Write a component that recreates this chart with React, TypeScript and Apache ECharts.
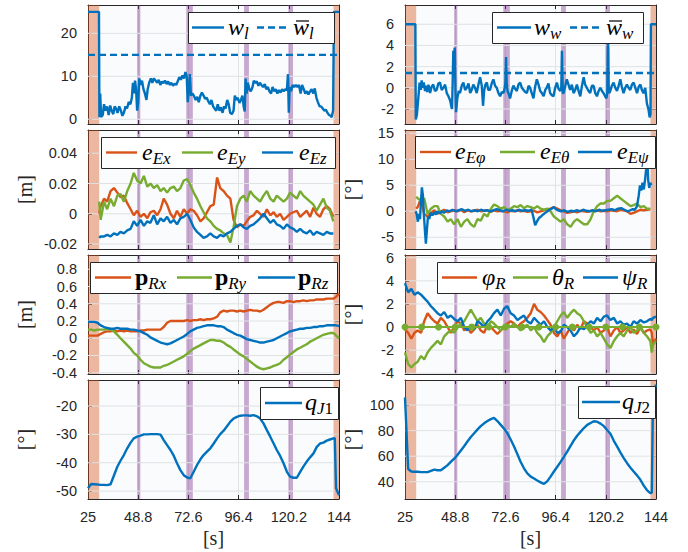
import React, { useEffect, useRef } from "react";
import * as echarts from "echarts";

// ---------------- time bases ----------------
const T_START = [25, 26.5, 28, 29.5];
const T_MID = [
  31.0, 32.6, 34.1, 35.7, 37.3, 38.9, 40.4, 42.0, 43.6, 45.2,
  46.7, 48.3, 49.9, 51.5, 53.1, 54.6, 56.2, 57.8, 59.4, 60.9,
  62.5, 64.1, 65.7, 67.2, 68.8, 70.4, 72.0, 73.5, 75.1, 76.7,
  78.3, 79.8, 81.4, 83.0, 84.6, 86.2, 87.7, 89.3, 90.9, 92.5,
  94.0, 95.6, 97.2, 98.8, 100.3, 101.9, 103.5, 105.1, 106.6, 108.2,
  109.8, 111.4, 113.0, 114.5, 116.1, 117.7, 119.3, 120.8, 122.4, 124.0,
  125.6, 127.1, 128.7, 130.3, 131.9, 133.4, 135.0, 136.6, 138.2, 139.7,
  141.3,
];
const T_END = [142.0, 142.6, 144];
const E_START_T = [30.3];

const X_MIN = 25;
const X_MAX = 144;
const X_STEP = 23.8;

const ORANGE_BANDS = [[25, 30.3], [141.4, 144]];
const PURPLE_BANDS = [[48.3, 49.8], [71.6, 74.7], [99.0, 101.3], [120.0, 122.2]];

// ---------------- panel 1 : w_l, w_w ----------------
const W_L = [
  [25, 25], [30.2, 25], [30.4, 0.5], [30.8, 6], [31.2, 0.5], [32, 1], [32.6, 3.5], [33.2, 2], [34, 3], [34.8, 1],
  [35.5, 3.2], [36.2, 2], [37, 1.2], [37.6, 3], [38.3, 2.5], [39, 1.5], [39.8, 3], [40.6, 2], [41.3, 0.8], [42, 1.5],
  [42.8, 3], [43.5, 2.5], [44.3, 4], [45.1, 3.5], [45.8, 5], [46.3, 8.5], [46.8, 6], [47.3, 9], [47.8, 7], [48.3, 2],
  [48.8, 4], [49.3, 9.5], [49.9, 8], [50.6, 9], [51.3, 7], [52, 6], [52.7, 4.5], [53.3, 7], [54, 8.5], [54.8, 9.5],
  [55.5, 8.5], [56.2, 9.5], [57, 9], [57.8, 8.5], [58.5, 9.2], [59.3, 8], [60, 8.8], [60.8, 8.4], [61.5, 9], [62.3, 8.2],
  [63, 8.8], [63.8, 8], [64.5, 8.5], [65.3, 7.8], [66, 8.3], [66.8, 8], [67.5, 8.8], [68.3, 9.8], [69, 9.2], [69.8, 10.2],
  [70.5, 9.5], [71.2, 11], [71.8, 10], [72.3, 4], [72.8, 7], [73.3, 10.5], [73.8, 5.5], [74.5, 6], [75.2, 5.5], [76, 4.5],
  [76.8, 5.2], [77.5, 4], [78.3, 5.5], [79, 6.2], [79.8, 5.5], [80.5, 4.8], [81.3, 5], [82, 4.2], [82.8, 3.5], [83.5, 4.5],
  [84.3, 3], [85, 2.5], [85.8, 2], [86.5, 3.5], [87.3, 2], [88, 2.8], [88.8, 1.5], [89.5, 3], [90.2, 2.5], [91, 4.5],
  [91.7, 3.5], [92.4, 1.5], [93.2, 1.2], [94, 2], [94.6, 5.5], [95.3, 4.5], [96, 5], [96.8, 3.8], [97.5, 4.5], [98.2, 5.5],
  [98.8, 3], [99.3, 1.8], [99.7, 9.5], [100.2, 6], [100.8, 8.5], [101.5, 7], [102.2, 6.5], [103, 7.5], [103.6, 9], [104.3, 8.5],
  [105, 8.8], [105.8, 7.8], [106.5, 8.5], [107.2, 8], [108, 7.5], [108.8, 8.2], [109.5, 7], [110.3, 7.5], [111, 6.5], [111.8, 6],
  [112.5, 7.5], [113.3, 6.5], [114, 7], [114.8, 6], [115.5, 6.8], [116.3, 6.2], [117, 7], [117.8, 6.5], [118.5, 7], [119.3, 6.8],
  [119.8, 10.5], [120.2, 1.5], [120.6, 7.5], [121.3, 6.5], [122, 8], [122.8, 7.5], [123.5, 8], [124.3, 7.5], [125, 8], [125.8, 6],
  [126.5, 8], [127.3, 7], [128, 6], [128.8, 6.5], [129.5, 5.8], [130.3, 6.5], [131, 7], [131.8, 6], [132.5, 7.2], [133.3, 5],
  [134, 4], [134.8, 3], [135.5, 3], [136.3, 2.5], [137, 2], [137.8, 2.2], [138.5, 1.5], [139.3, 1], [140, 0.8], [140.5, 0.5],
  [141.2, 2], [141.6, 25], [144, 25],
];
const W_L_MEAN = [[25, 15], [144, 15]];

const W_W = [
  [25, 6], [29.9, 6], [30.1, -3], [30.6, -2.6], [31.3, -1], [31.9, 0.5], [32.5, -0.2], [32.9, 0.7], [33.4, 0], [33.9, 0.5],
  [34.5, -0.3], [35.0, 0.2], [35.5, -0.4], [36.1, 0.3], [36.9, -0.5], [37.6, 0.1], [38.4, 0.3], [39.2, -0.3], [40.0, -0.2], [40.8, 0.4],
  [41.6, 0.5], [42.4, -0.2], [43.2, 0], [44.0, 0.3], [44.8, -0.5], [45.6, -0.8], [46.4, -1.2], [47.0, -1.8], [47.3, -2], [47.6, 0.5],
  [47.9, 3.5], [48.3, 3.3], [48.6, 3.8], [48.9, 0], [49.2, -2.3], [49.8, -1], [50.5, -0.3], [51.1, -0.5], [51.9, 0.2], [52.7, 0.5],
  [53.5, -0.2], [54.3, 0], [55.1, 0.4], [55.9, -0.5], [56.6, -0.2], [57.4, 0.3], [58.2, 0], [59.0, -0.5], [59.8, 0.3], [60.6, 1],
  [61.4, 0.2], [62.0, -1.7], [62.5, -0.3], [63.1, 0.3], [63.8, 0.5], [64.5, -0.2], [65.3, -0.2], [66.1, 0.4], [66.9, 0.8], [67.7, 0.2],
  [68.5, 0], [69.3, -0.5], [70.1, -0.8], [70.9, -0.4], [71.7, -0.5], [72.3, 0], [72.6, 0.5], [72.9, 2.9], [73.2, 0.5], [73.6, -0.3],
  [74.2, -0.6], [74.8, -1], [75.6, -0.3], [76.4, 0.2], [77.2, -0.1], [78.0, -0.3], [78.8, 0.3], [79.6, 0.5], [80.4, 0], [81.2, -0.2],
  [82.0, -0.4], [82.8, -0.5], [83.6, 0.2], [84.3, 0], [85.1, -0.5], [85.9, -1], [86.7, 0.1], [87.5, 0.8], [88.3, 0.3], [89.1, -0.3],
  [89.9, -0.5], [90.7, -0.8], [91.5, -0.2], [92.2, 0], [93.0, 0.4], [93.8, -0.5], [94.6, -0.7], [95.4, -0.8], [96.2, 0], [97.0, 0.5],
  [97.8, -0.1], [98.6, -0.3], [99.1, 0], [99.4, 3.5], [99.8, -0.5], [100.2, -0.5], [101.0, 0.2], [101.7, 0.8], [102.5, 0.3], [103.3, -0.2],
  [104.1, 0.3], [104.9, -0.5], [105.7, -0.2], [106.5, 0.3], [107.3, -0.3], [108.1, -0.8], [108.9, 0.2], [109.7, 1], [110.4, 0.3], [111.2, 0],
  [112.0, -0.3], [112.8, -0.5], [113.6, 0.2], [114.4, 0.2], [115.2, -0.5], [116.0, -0.8], [116.8, -0.3], [117.6, 0], [118.4, -0.3], [119.1, -0.5],
  [119.9, -0.8], [120.5, -1], [120.9, -0.5], [121.2, 4.3], [121.5, 0.3], [121.9, -0.5], [122.3, -0.3], [123.1, 0.2], [123.9, 0.5], [124.7, 0],
  [125.5, -0.3], [126.3, 0.2], [127.1, 0.8], [127.8, 0.1], [128.6, -0.5], [129.4, 0], [130.2, 0.3], [131.0, 0], [131.8, -0.2], [132.6, 0.3],
  [133.4, 0.5], [134.2, 0], [135.0, -0.5], [135.8, 0.1], [136.6, 0.3], [137.3, -0.2], [138.1, -0.5], [138.9, 0], [139.7, -1.5], [140.4, -2],
  [141.0, -2.8], [141.4, -2.5], [141.6, 6], [144, 6],
];
const W_W_MEAN = [[25, 1.4], [144, 1.4]];

// ---------------- panel 2 : position / orientation errors ----------------
const E_X = [
  0,
  0.005, 0.010, 0.008, 0.015, 0.017, 0.014, 0.011, 0.012, 0.007, 0.003,
  -0.001, 0.002, -0.002, 0, -0.003, 0.001, 0.002, -0.001, 0.003, 0.010,
  0.006, 0, -0.003, 0.002, -0.002, 0.003, 0, 0.003, 0.002, -0.001,
  -0.005, -0.003, 0.001, 0.005, 0.006, 0.024, 0.017, 0.015, 0.012, 0.010,
  -0.004, -0.009, -0.007, -0.008, -0.005, -0.002, -0.001, 0.002, 0, -0.002,
  0.003, -0.001, 0.001, -0.002, 0, -0.004, -0.002, 0, 0.001, 0.002,
  -0.002, 0, 0.002, -0.002, 0.004, 0, -0.002, 0.003, 0.005, 0.003,
  -0.002,
];
const E_Y = [
  0.008,
  -0.004, 0.008, 0.003, 0.010, 0.005, 0.012, 0.013, 0.008, 0.015, 0.020,
  0.027, 0.022, 0.020, 0.025, 0.018, 0.020, 0.017, 0.019, 0.015, 0.017,
  0.014, 0.017, 0.018, 0.015, 0.017, 0.022, 0.023, 0.019, 0.014, 0.010,
  0.005, 0.001, -0.003, -0.005, -0.008, -0.010, -0.011, -0.013, -0.014, -0.019,
  -0.009, 0.005, 0.010, 0.012, 0.008, 0.015, 0.012, 0.010, 0.008, 0.012,
  0.015, 0.010, 0.008, 0.012, 0.010, 0.008, 0.010, 0.014, 0.012, 0.010,
  0.015, 0.012, 0.010, 0.008, 0.006, 0.002, 0.006, 0.010, 0.004, 0.002,
  -0.005,
];
const E_Z = [
  -0.016,
  -0.015, -0.015, -0.014, -0.015, -0.013, -0.014, -0.012, -0.013, -0.011, -0.010,
  -0.005, -0.008, -0.004, -0.008, -0.005, -0.006, -0.001, -0.007, -0.003, -0.005,
  -0.002, -0.006, -0.004, -0.007, -0.003, -0.002, 0, -0.004, -0.009, -0.012,
  -0.014, -0.016, -0.015, -0.013, -0.015, -0.016, -0.014, -0.015, -0.013, -0.012,
  -0.010, -0.008, -0.007, -0.009, -0.010, -0.008, -0.007, -0.005, -0.003, 0,
  -0.003, -0.006, -0.004, -0.007, -0.008, -0.010, -0.007, -0.009, -0.010, -0.012,
  -0.010, -0.012, -0.013, -0.011, -0.014, -0.012, -0.013, -0.014, -0.012, -0.013,
  -0.013,
];
const E_PHI = [
  0.5,
  0.8, 2.5, -0.5, -1, -0.3, 0.2, -0.5, 0, 0.3, -0.2,
  0, 0.2, 0, 0.3, -0.2, 0.2, 0, 0.1, 0.3, 0,
  0.1, 0.2, -0.1, 0.2, 0, 0.1, 0, -0.2, 0.1, 0,
  0.2, 0, 0.1, -0.1, 0, 0.1, -0.2, 0, 0.2, 0.4,
  0.5, 0.8, 0.5, 0.2, 0, -0.3, -0.2, 0, -0.2, 0.1,
  0, -0.1, 0.1, 0, 0.2, 0, 0.1, 0, 0.2, 0.1,
  0, 0.3, 0.2, 0, -0.5, -0.3, 0, 0.3, 0.2, 0.3,
  0.4,
];
const E_THETA = [
  2.8,
  2.5, 2, 2.5, -0.5, 0.5, 1, 1, -0.5, -1, -2,
  -1.5, -2.5, -1.5, -3, -2, -1.5, -2.5, -3, -1.5, -1.8,
  -0.5, -1, 0.5, 1.3, 1, 0.5, 0.8, 0.3, 0.5, 1,
  0.8, 1.2, 0.6, 1, 0.8, 0.5, 1, 0.5, 0.3, 0.5,
  0, -1, -1.5, -2, -1.5, -2.5, -3, -2, -1.5, -2,
  -2.5, -2.5, -1.5, 0, 1, 1.5, 1.5, 2, 2, 2.5,
  3, 2.5, 2, 1.5, 1, 1.2, 1.5, 0.8, 1, 0.5,
  0.5,
];
const E_PSI = [
  [30.0, 0], [30.5, -0.5], [31.1, -2], [31.6, -0.5], [32.1, -1.5], [32.6, 2], [33.0, 4.6], [33.5, 3], [34.0, -1], [34.5, -4],
  [34.9, -6.2], [35.4, -3.5], [35.9, -1], [36.5, -1.5], [37.2, -0.3], [38.0, -0.8], [38.8, -0.2], [39.6, -0.6], [40.4, 0], [41.5, -0.4],
  [42.5, 0], [43.5, -0.3], [44.8, 0.2], [46.0, 0], [47.5, 0.3], [49.0, 0], [50.5, 0.2], [52.0, 0.4], [53.5, 0.1], [55.0, 0.3],
  [56.5, 0], [58.0, 0.2], [59.5, 0], [61.0, 0.3], [62.5, 0.1], [64.0, 0.2], [65.5, 0], [67.0, 0.2], [68.5, 0.4], [70.0, 0.2],
  [71.5, 0], [73.0, 0.3], [74.5, 0.1], [76.0, 0.2], [77.5, 0], [79.0, 0.3], [80.5, 0.1], [82.0, 0.2], [83.5, 0.1], [85.0, 0.3],
  [85.8, -1], [86.7, -2.7], [87.5, -2], [88.5, -1.3], [89.5, -1], [90.5, -0.6], [91.5, -0.3], [92.5, 0], [93.5, 0.3], [94.5, 0.5],
  [95.5, 0.8], [96.5, 0.4], [97.5, 0.2], [99.0, 0], [100.5, 0.2], [102.0, -0.1], [103.5, 0.1], [105.0, 0], [106.5, 0.2], [108.0, 0],
  [109.5, 0.3], [111.0, 0.1], [112.5, 0], [114.0, 0.2], [115.5, 0], [117.0, 0.3], [118.5, 0.1], [120.0, 0.2], [121.5, 0.3], [123.0, 0.4],
  [124.5, 0.2], [126.0, 0.5], [127.5, 0.6], [129.0, 0.3], [130.5, 0], [131.8, 0.2], [133.0, 0.4], [134.0, 0.3], [135.0, 1], [135.8, 3],
  [136.4, 5], [137.0, 4], [137.6, 5.5], [138.2, 4.2], [138.8, 6], [139.3, 8], [139.8, 11], [140.3, 6], [140.8, 4.5], [141.3, 5.5],
  [141.8, 5],
];

// ---------------- panel 3 : robot pose ----------------
const P_RX = [
  0.03, 0.03, 0.03, 0.03,
  0.05, 0.07, 0.08, 0.08, 0.09, 0.08, 0.09, 0.08, 0.09, 0.08,
  0.08, 0.08, 0.09, 0.09, 0.1, 0.1, 0.1, 0.1, 0.1, 0.13,
  0.18, 0.2, 0.2, 0.2, 0.2, 0.2, 0.21, 0.2, 0.21, 0.21,
  0.22, 0.21, 0.22, 0.22, 0.23, 0.25, 0.3, 0.32, 0.31, 0.32,
  0.32, 0.31, 0.32, 0.31, 0.32, 0.33, 0.32, 0.32, 0.31, 0.33,
  0.36, 0.39, 0.41, 0.42, 0.42, 0.41, 0.43, 0.43, 0.42, 0.43,
  0.43, 0.44, 0.43, 0.44, 0.44, 0.45, 0.45, 0.45, 0.46, 0.46,
  0.46,
  0.47, 0.48, 0.52,
];
const P_RY = [
  0.1, 0.1, 0.09, 0.1,
  0.1, 0.1, 0.11, 0.1, 0.08, 0.04, 0, -0.04, -0.08, -0.12,
  -0.17, -0.2, -0.25, -0.29, -0.31, -0.33, -0.34, -0.34, -0.34, -0.32,
  -0.31, -0.29, -0.27, -0.25, -0.23, -0.21, -0.18, -0.15, -0.12, -0.1,
  -0.08, -0.06, -0.04, -0.02, -0.02, -0.03, -0.03, -0.05, -0.08, -0.1,
  -0.13, -0.16, -0.19, -0.21, -0.24, -0.27, -0.3, -0.33, -0.35, -0.36,
  -0.35, -0.34, -0.32, -0.31, -0.29, -0.25, -0.22, -0.19, -0.16, -0.13,
  -0.11, -0.09, -0.07, -0.04, -0.02, 0, 0.02, 0.04, 0.05, 0.06,
  0.06,
  0.05, 0.03, 0.0,
];
const P_RZ = [
  0.19, 0.19, 0.19, 0.18,
  0.15, 0.13, 0.12, 0.11, 0.11, 0.12, 0.11, 0.11, 0.11, 0.1,
  0.1, 0.09, 0.08, 0.06, 0.04, 0.01, -0.01, -0.03, -0.05, -0.06,
  -0.07, -0.06, -0.04, -0.02, 0, 0.02, 0.05, 0.08, 0.1, 0.12,
  0.13, 0.14, 0.15, 0.15, 0.15, 0.14, 0.14, 0.13, 0.1, 0.08,
  0.06, 0.04, 0.03, 0.01, -0.01, -0.02, -0.03, -0.04, -0.05, -0.05,
  -0.04, -0.03, -0.02, 0, 0.02, 0.04, 0.06, 0.08, 0.09, 0.1,
  0.11, 0.11, 0.12, 0.12, 0.13, 0.13, 0.14, 0.14, 0.15, 0.15,
  0.15,
  0.15, 0.15, 0.14,
];
const PHI_R = [
  -0.2, -0.5, -1, -0.5,
  -0.3, -0.5, 0.5, 1.2, 0.8, 0.5, 0.3, 0.8, 0.5, 0,
  -0.5, 0, 0.5, 0.3, -0.3, 0, -0.5, -0.2, 0.2, -0.3,
  -0.5, 0.2, 0, -0.3, -0.6, -0.3, 0, 0.3, 0.5, 0.3,
  0, 0.3, 0.5, 0.8, 1.2, 2, 1.5, 1.3, 1, 0.6,
  0.2, -0.5, -0.8, -0.3, -1, -0.5, 0, -0.3, 0.2, -0.2,
  0.5, 0.3, 0, -0.3, 0, -0.5, -0.3, 0, -0.8, -0.3,
  0, -0.5, -0.3, 0, -0.5, -0.2, -0.6, 0, -0.5, -0.3,
  -0.2,
  -0.5, -1.5, -1,
];
const THETA_R = [
  -2.2, -3.2, -3.5, -3.2,
  -3, -2.5, -2.8, -2.2, -1.8, -1.5, -1.2, -1.5, -0.8, -0.5,
  -0.3, -0.5, 0, 0.3, 0.5, 1, 1.5, 1, 0.5, 0.8,
  0.3, 0, 0.5, 0.3, 0, -0.3, 0, 0.2, 0, 0.3,
  0, -0.3, 0, 0.2, -0.3, 0, -0.5, -0.8, -1.3, -0.8,
  -0.5, 0, 0.5, 1, 1.3, 0.8, 1.2, 1.5, 1.2, 1,
  0.5, 0, -0.5, -0.3, -0.8, -0.5, -1, -1.5, -1.8, -1.2,
  -0.8, -0.5, -0.8, -0.3, 0, -0.5, -0.3, 0, -0.5, -0.8,
  -1.2,
  -2.2, -1.5, -1.2,
];
const PSI_R = [
  3.8, 3, 3.3, 2.8,
  3, 2.8, 2.5, 2.2, 1.8, 1.5, 1.2, 1, 1.3, 0.8,
  1, 0.7, 0.5, 0.8, 0, -0.3, 0.2, -0.2, 0.5, 0.3,
  0, 0.5, 0.8, 1.2, 1.5, 1, 1.6, 1.8, 1.2, 1,
  0.6, 0.8, 1, 0.5, 0.3, 0.8, 0.5, 0.2, 0.5, 0,
  -0.3, 0, -0.5, -0.4, 0.2, 0, -0.3, -0.8, -0.5, 0,
  -0.2, 0.2, 0.5, 0.3, 0.8, 0.5, 0.9, 1, 0.6, 0.8,
  0.3, 0.5, 0.2, 0.3, 0, 0.5, 0.3, 0.6, 0.4, 0.5,
  0.7,
  0.6, 0.8, 0.9,
];
const THETA_REF_T = [25, 32.9, 40.9, 48.8, 56.7, 64.7, 72.6, 80.5, 88.5, 96.4, 104.3, 112.3, 120.2, 128.1, 136.1, 144];
const THETA_REF = [0, 0, 0, 0, 0, 0, 0, 0, 0, 0, 0, 0, 0, 0, 0, 0];

// ---------------- panel 4 : joint angles ----------------
const Q_J1 = [
  -49, -47.5, -47.6, -47.7,
  -47.8, -47.8, -47.9, -47.6, -44.5, -41.4, -39.3, -37.3, -34.9, -32.9,
  -31.4, -30.8, -30.4, -30.0, -30.0, -29.9, -29.9, -29.9, -30.1, -32.0,
  -33.8, -35.5, -37.6, -40.2, -42.6, -44.4, -45.2, -45.5, -43.2, -40.8,
  -38.8, -37.3, -36.1, -34.9, -33.2, -31.4, -29.9, -28.7, -27.1, -25.5,
  -24.4, -23.8, -23.4, -23.3, -23.3, -23.4, -23.2, -23.6, -24.4, -26.1,
  -28.5, -30.8, -33.2, -35.5, -37.6, -40.2, -43.2, -44.9, -45.3, -45.3,
  -43.2, -41.4, -39.6, -38.1, -36.7, -34.5, -33.2, -32.9, -32.2, -31.8,
  -31.4,
  -31.3, -49, -51.5,
];
const Q_J2 = [
  106, 50, 48, 47.8,
  47.8, 47.5, 47.5, 47.5, 48.5, 49.5, 49, 49, 51, 53,
  55.5, 58, 61, 64.5, 68, 71.5, 75, 78, 81, 83.5,
  85.7, 87.5, 89, 90, 87.5, 84.5, 81.5, 78, 73, 67.5,
  61.5, 55.7, 50.5, 46.5, 44, 42.5, 41, 39.5, 38.3, 40.5,
  44, 48, 51.7, 55.5, 59.5, 63.5, 68, 72.5, 76, 79,
  82, 84.5, 86, 87.3, 87, 85.5, 83.5, 80.5, 77.5, 72,
  67.5, 63, 58.5, 54.5, 51, 48, 45, 41.5, 37, 33.5,
  31,
  31.5, 108, 116,
];

// ---------------- axes ----------------
const Y_RANGE_WL = [-1.1, 26.6];
const Y_TICKS_WL = [0, 10, 20];
const Y_RANGE_WW = [-3.42, 7.82];
const Y_TICKS_WW = [-2, 0, 2, 4, 6];
const Y_RANGE_EP = [-0.0233, 0.0554];
const Y_TICKS_EP = [-0.02, 0, 0.02, 0.04];
const Y_RANGE_EO = [-7.25, 15.63];
const Y_TICKS_EO = [-5, 0, 5, 10, 15];
const Y_RANGE_PR = [-0.415, 0.966];
const Y_TICKS_PR = [-0.4, -0.2, 0, 0.2, 0.4, 0.6, 0.8];
const Y_RANGE_OR = [-4.06, 6.23];
const Y_TICKS_OR = [-4, -2, 0, 2, 4, 6];
const Y_RANGE_Q1 = [-52.8, -10.8];
const Y_TICKS_Q1 = [-50, -40, -30, -20];
const Y_RANGE_Q2 = [26.5, 119.6];
const Y_TICKS_Q2 = [40, 60, 80, 100];

// ---------------- style ----------------
const BLUE = "#0072BD";
const ORANGE = "#D95319";
const GREEN = "#77AC30";
const AXIS_COLOR = "#262626";
const GRID_LINE = "#e0e2e4";
const PLOT_BG = "#f9fbfc";
const ORANGE_FILL = "rgba(217,83,25,0.4)";
const PURPLE_FILL = "rgba(126,47,142,0.4)";
const SANS = "Liberation Sans, Arial, sans-serif";
const SERIF = "Liberation Serif, Times New Roman, serif";
const TICK_FONT = 14.5;
const LINE_W = 2.4;

const COL_X = [88, 405];
const ROW_Y = [5, 130, 255, 380];
const PW = 251;
const PH = 119;

const TIME_FULL = [...T_START, ...T_MID, ...T_END];
const E_TIME = [...E_START_T, ...T_MID];
const zip = (t: number[], v: number[]) => t.map((x, i) => [x, v[i]]);

type S = { data: number[][]; color: string; dashed?: boolean; dots?: boolean };
type Panel = { col: number; row: number; range: number[]; ticks: number[]; series: S[] };

const PANELS: Panel[] = [
  { col: 0, row: 0, range: Y_RANGE_WL, ticks: Y_TICKS_WL, series: [
    { data: W_L, color: BLUE }, { data: W_L_MEAN, color: BLUE, dashed: true }] },
  { col: 1, row: 0, range: Y_RANGE_WW, ticks: Y_TICKS_WW, series: [
    { data: W_W, color: BLUE }, { data: W_W_MEAN, color: BLUE, dashed: true }] },
  { col: 0, row: 1, range: Y_RANGE_EP, ticks: Y_TICKS_EP, series: [
    { data: zip(E_TIME, E_X), color: ORANGE }, { data: zip(E_TIME, E_Y), color: GREEN }, { data: zip(E_TIME, E_Z), color: BLUE }] },
  { col: 1, row: 1, range: Y_RANGE_EO, ticks: Y_TICKS_EO, series: [
    { data: zip(E_TIME, E_PHI), color: ORANGE }, { data: zip(E_TIME, E_THETA), color: GREEN }, { data: E_PSI, color: BLUE }] },
  { col: 0, row: 2, range: Y_RANGE_PR, ticks: Y_TICKS_PR, series: [
    { data: zip(TIME_FULL, P_RX), color: ORANGE }, { data: zip(TIME_FULL, P_RY), color: GREEN }, { data: zip(TIME_FULL, P_RZ), color: BLUE }] },
  { col: 1, row: 2, range: Y_RANGE_OR, ticks: Y_TICKS_OR, series: [
    { data: zip(TIME_FULL, PHI_R), color: ORANGE }, { data: zip(TIME_FULL, THETA_R), color: GREEN }, { data: zip(TIME_FULL, PSI_R), color: BLUE },
    { data: zip(THETA_REF_T, THETA_REF), color: GREEN, dots: true }] },
  { col: 0, row: 3, range: Y_RANGE_Q1, ticks: Y_TICKS_Q1, series: [{ data: zip(TIME_FULL, Q_J1), color: BLUE }] },
  { col: 1, row: 3, range: Y_RANGE_Q2, ticks: Y_TICKS_Q2, series: [{ data: zip(TIME_FULL, Q_J2), color: BLUE }] },
];

const RICH = {
  m: { fontFamily: SERIF, fontStyle: "italic", fontSize: 24, verticalAlign: "bottom", padding: [0, 0, 3, 0], fill: "#000" },
  b: { fontFamily: SERIF, fontWeight: "bold", fontSize: 24, verticalAlign: "bottom", padding: [0, 0, 3, 0], fill: "#000" },
  s: { fontFamily: SERIF, fontStyle: "italic", fontSize: 17, verticalAlign: "bottom", fill: "#000" },
  n: { fontFamily: SERIF, fontSize: 17, verticalAlign: "bottom", fill: "#000" },
};

type LItem = { l1: number; l2: number; color: string; tx: number; label: string; dashed?: boolean; bar?: boolean };
const LEGENDS: { x: number; y: number; w: number; h: number; items: LItem[] }[] = [
  { x: 188, y: 12, w: 146, h: 31, items: [
    { l1: 192, l2: 224, color: BLUE, tx: 228, label: "{m|w}{s|l}" },
    { l1: 257, l2: 289, color: BLUE, tx: 293, label: "{m|w}{s|l}", dashed: true, bar: true }] },
  { x: 492, y: 12, w: 151, h: 31, items: [
    { l1: 497, l2: 531, color: BLUE, tx: 534, label: "{m|w}{s|w}" },
    { l1: 570, l2: 603, color: BLUE, tx: 606, label: "{m|w}{s|w}", dashed: true, bar: true }] },
  { x: 101, y: 137, w: 234, h: 31, items: [
    { l1: 106, l2: 137, color: ORANGE, tx: 142, label: "{m|e}{s|Ex}" },
    { l1: 182, l2: 213, color: GREEN, tx: 217, label: "{m|e}{s|Ey}" },
    { l1: 262, l2: 293, color: BLUE, tx: 299, label: "{m|e}{s|Ez}" }] },
  { x: 415, y: 136, w: 240, h: 32, items: [
    { l1: 420, l2: 451, color: ORANGE, tx: 455, label: "{m|e}{s|Eφ}" },
    { l1: 500, l2: 535, color: GREEN, tx: 540, label: "{m|e}{s|Eθ}" },
    { l1: 578, l2: 612, color: BLUE, tx: 617, label: "{m|e}{s|Eψ}" }] },
  { x: 90, y: 262, w: 247, h: 31, items: [
    { l1: 95, l2: 131, color: ORANGE, tx: 135, label: "{b|p}{s|Rx}" },
    { l1: 177, l2: 212, color: GREEN, tx: 215, label: "{b|p}{s|Ry}" },
    { l1: 258, l2: 295, color: BLUE, tx: 298, label: "{b|p}{s|Rz}" }] },
  { x: 437, y: 262, w: 218, h: 31, items: [
    { l1: 442, l2: 477, color: ORANGE, tx: 482, label: "{m|φ}{s|R}" },
    { l1: 513, l2: 548, color: GREEN, tx: 552, label: "{m|θ}{s|R}" },
    { l1: 583, l2: 618, color: BLUE, tx: 622, label: "{m|ψ}{s|R}" }] },
  { x: 260, y: 387, w: 78, h: 32, items: [
    { l1: 265, l2: 302, color: BLUE, tx: 305, label: "{m|q}{s|J}{n|1}" }] },
  { x: 578, y: 386, w: 77, h: 32, items: [
    { l1: 582, l2: 620, color: BLUE, tx: 622, label: "{m|q}{s|J}{n|2}" }] },
];

const AXIS_NAMES = [
  { x: 25, y: 189.5, text: "[m]", rot: true },
  { x: 25, y: 314.5, text: "[m]", rot: true },
  { x: 25, y: 439.5, text: "[°]", rot: true },
  { x: 352, y: 189.5, text: "[°]", rot: true },
  { x: 352, y: 314.5, text: "[°]", rot: true },
  { x: 352, y: 439.5, text: "[°]", rot: true },
  { x: 213.5, y: 538, text: "[s]", rot: false },
  { x: 530.5, y: 538, text: "[s]", rot: false },
];

function fmtY(v: number) {
  return String(Number(v.toFixed(3)));
}
function fmtX(v: number) {
  return String(Number(v.toFixed(1)));
}

function buildOption() {
  const grid: any[] = [];
  const xAxis: any[] = [];
  const yAxis: any[] = [];
  const series: any[] = [];
  const bands = [
    ...ORANGE_BANDS.map(([a, b]) => [{ xAxis: a, itemStyle: { color: ORANGE_FILL } }, { xAxis: b }]),
    ...PURPLE_BANDS.map(([a, b]) => [{ xAxis: a, itemStyle: { color: PURPLE_FILL } }, { xAxis: b }]),
  ];
  PANELS.forEach((p, i) => {
    grid.push({ left: COL_X[p.col], top: ROW_Y[p.row], width: PW, height: PH, show: true, backgroundColor: PLOT_BG, borderWidth: 0 });
    const axLine = { show: true, onZero: false, lineStyle: { color: AXIS_COLOR, width: 1 } };
    const tick = { show: true, inside: true, length: 4, lineStyle: { color: AXIS_COLOR, width: 1 } };
    xAxis.push({
      type: "value", gridIndex: i, position: "bottom", min: X_MIN, max: X_MAX, interval: X_STEP,
      axisLine: axLine, axisTick: tick,
      axisLabel: { show: p.row === 3, formatter: fmtX, fontSize: TICK_FONT, color: AXIS_COLOR, fontFamily: SANS, margin: 10, showMinLabel: true, showMaxLabel: true },
      splitLine: { show: true, lineStyle: { color: GRID_LINE, width: 1 } },
    });
    xAxis.push({
      type: "value", gridIndex: i, position: "top", min: X_MIN, max: X_MAX, interval: X_STEP,
      axisLine: axLine, axisTick: tick, axisLabel: { show: false }, splitLine: { show: false },
    });
    yAxis.push({
      type: "value", gridIndex: i, position: "left", min: p.range[0], max: p.range[1],
      axisLine: axLine, axisTick: { ...tick, customValues: p.ticks },
      axisLabel: { show: true, customValues: p.ticks, formatter: fmtY, fontSize: TICK_FONT, color: AXIS_COLOR, fontFamily: SANS, margin: 11 },
      splitLine: { show: false },
    });
    yAxis.push({
      type: "value", gridIndex: i, position: "right", min: p.range[0], max: p.range[1],
      axisLine: axLine, axisTick: { ...tick, customValues: p.ticks },
      axisLabel: { show: false }, splitLine: { show: false },
    });
    const xi = 2 * i;
    const yi = 2 * i;
    series.push({
      type: "line", xAxisIndex: xi, yAxisIndex: yi, z: 1, silent: true, symbol: "none",
      data: p.ticks.flatMap((v) => [[X_MIN, v], [X_MAX, v], [X_MAX, null]]),
      lineStyle: { color: GRID_LINE, width: 1 }, connectNulls: false,
      markArea: { silent: true, data: bands },
    });
    p.series.forEach((s) => {
      series.push({
        type: "line", xAxisIndex: xi, yAxisIndex: yi, z: 2, silent: true,
        data: s.data,
        symbol: s.dots ? "circle" : "none", symbolSize: 7, showSymbol: !!s.dots, showAllSymbol: true,
        itemStyle: { color: s.color },
        lineStyle: { color: s.color, width: s.dots ? 2 : LINE_W, type: s.dashed ? [7, 4] : "solid" },
      });
    });
  });

  const elements: any[] = [];
  LEGENDS.forEach((L) => {
    const cy = L.y + L.h / 2;
    elements.push({ type: "rect", z: 100, shape: { x: L.x + 0.5, y: L.y + 0.5, width: L.w, height: L.h },
      style: { fill: "#ffffff", stroke: AXIS_COLOR, lineWidth: 1 } });
    L.items.forEach((it) => {
      elements.push({ type: "line", z: 101, shape: { x1: it.l1, y1: cy, x2: it.l2, y2: cy },
        style: { stroke: it.color, lineWidth: LINE_W, lineDash: it.dashed ? [7, 4] : null } });
      elements.push({ type: "text", z: 101, x: it.tx, y: cy + 0.5,
        style: { text: it.label, rich: RICH, align: "left", verticalAlign: "middle", fill: "#000" } });
      if (it.bar) {
        elements.push({ type: "line", z: 101, shape: { x1: it.tx + 3, y1: cy - 6.5, x2: it.tx + 16, y2: cy - 6.5 },
          style: { stroke: "#000", lineWidth: 1.2 } });
      }
    });
  });
  AXIS_NAMES.forEach((a) => {
    elements.push({ type: "text", z: 100, x: a.x, y: a.y, rotation: a.rot ? Math.PI / 2 : 0,
      style: { text: a.text, fontFamily: SERIF, fontSize: 20, fill: AXIS_COLOR, align: "center", verticalAlign: "middle" } });
  });

  return {
    animation: false,
    backgroundColor: "#ffffff",
    grid, xAxis, yAxis, series,
    graphic: { elements },
  };
}

export default function App() {
  const ref = useRef<HTMLDivElement>(null);
  useEffect(() => {
    if (!ref.current) return;
    const chart = echarts.init(ref.current, null, { renderer: "svg" });
    chart.setOption(buildOption() as any);
    return () => chart.dispose();
  }, []);
  return <div ref={ref} style={{ position: "absolute", left: 0, top: 0, width: 688, height: 552 }} />;
}
